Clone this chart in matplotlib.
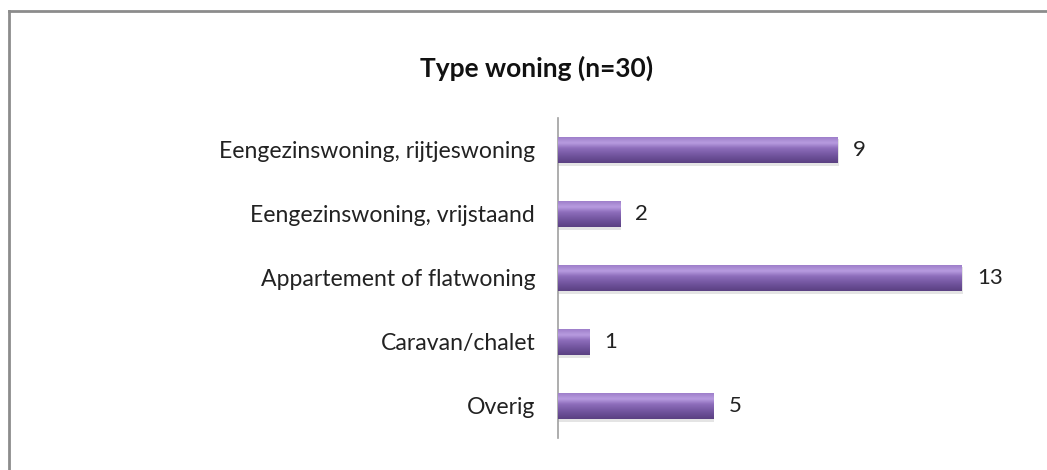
import numpy as np
import matplotlib.pyplot as plt
from matplotlib.colors import LinearSegmentedColormap
from matplotlib.lines import Line2D

categories = ["Eengezinswoning, rijtjeswoning",
              "Eengezinswoning, vrijstaand",
              "Appartement of flatwoning",
              "Caravan/chalet",
              "Overig"]
counts = [9, 2, 13, 1, 5]
title = "Type woning (n=30)"

plt.rcParams['font.family'] = ['Lato', 'DejaVu Sans']

fig = plt.figure(figsize=(10.47, 4.70), dpi=100)
ax = fig.add_axes([0.5330, 0.0681, 0.4155, 0.6809])

# outer frame (only top and left are visible in the original crop)
fig.add_artist(Line2D([9/1047, 9/1047], [0, 1 - 11/470], transform=fig.transFigure, color='#8c8c8c', lw=2))
fig.add_artist(Line2D([9/1047, 1], [1 - 11/470, 1 - 11/470], transform=fig.transFigure, color='#8c8c8c', lw=2))

y = np.arange(len(categories))
bars = ax.barh(y, counts, height=0.42, color='#7a5aa8', edgecolor='none', zorder=2)

# purple gradient: light band near the top, dark at the bottom
cmap = LinearSegmentedColormap.from_list('bar', [
    (0.0, '#9a7ac6'), (0.25, '#b89ce0'), (0.45, '#8d6dbb'),
    (0.75, '#6f529b'), (1.0, '#5a4082')])
grad = np.linspace(0, 1, 100).reshape(-1, 1)
for b in bars:
    x0, y0, w, h = b.get_x(), b.get_y(), b.get_width(), b.get_height()
    # soft shadow under the bar
    ax.barh(y0 + h / 2 + 0.035, w + 0.03, height=h, left=x0, color='#e4e4e4', zorder=1)
    im = ax.imshow(grad, cmap=cmap, aspect='auto', extent=[x0, x0 + w, y0 + h, y0],
                   zorder=3, interpolation='bicubic')
    im.set_clip_path(b)

for yi, v in zip(y, counts):
    ax.text(v + 0.48, yi, str(v), va='center', ha='left', fontsize=16, color='#222222')

ax.set_xlim(0, 14)
ax.set_ylim(len(categories) - 0.5, -0.5)
ax.set_yticks(y)
ax.set_yticklabels(categories, fontsize=16.6, color='#222222')
ax.tick_params(axis='y', length=0, pad=16.5)
ax.set_xticks([])
for s in ['top', 'right', 'bottom']:
    ax.spines[s].set_visible(False)
ax.spines['left'].set_color('#a0a0a0')
ax.spines['left'].set_linewidth(1.2)

fig.text(537/1047, 1 - 68/470, title, ha='center', va='center', fontsize=19, fontweight='bold', color='#111111')

plt.savefig("out.png", dpi=100)
